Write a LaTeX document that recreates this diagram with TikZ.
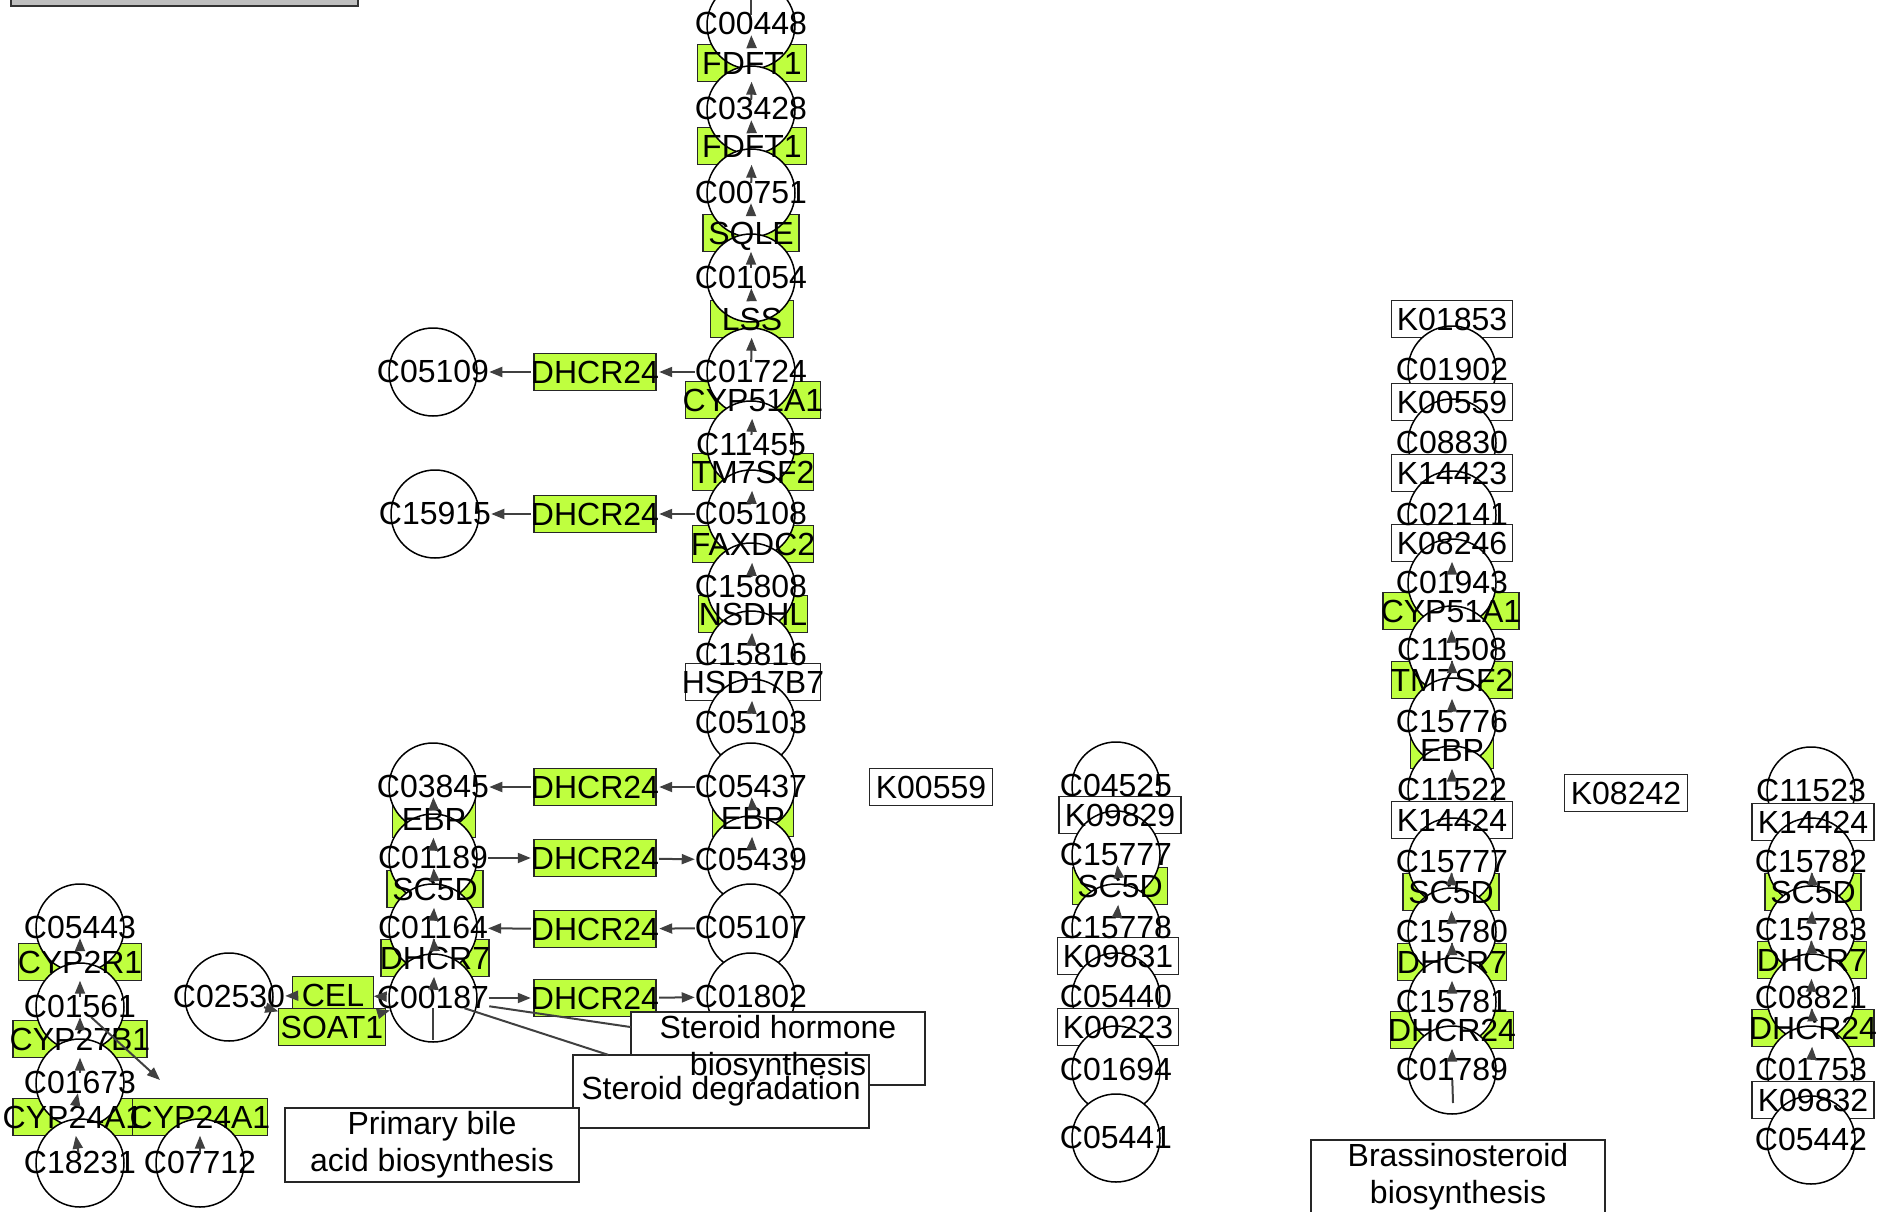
\documentclass[tikz,border=0pt]{standalone}
\usepackage{fontspec}
\setmainfont{Liberation Sans}
\usetikzlibrary{arrows.meta}
\definecolor{genegreen}{RGB}{191,255,63}
\definecolor{linkgray}{RGB}{64,64,64}
\pgfdeclarelayer{bg}
\pgfsetlayers{bg,main}

\begin{document}
\begin{tikzpicture}[x=1pt,y=-1pt,>={Triangle[length=13pt,width=10pt]},
        every node/.style={font=\fontsize{32}{37}\selectfont},
        cpd/.style={circle,draw=black,line width=1.5pt,fill=white,minimum size=88pt,inner sep=0pt},
        cpdlabel/.style={inner sep=0pt,text height=20pt,text depth=0pt},
        gene/.style={draw=black!85,line width=1.8pt,fill=genegreen,minimum height=37pt,inner sep=0pt},
        genelabel/.style={minimum height=37pt,inner sep=0pt,text height=22.5pt,text depth=0pt},
        ko/.style={gene,fill=white},
        kolabel/.style={genelabel},
        map/.style={draw=black!85,line width=1.8pt,fill=white,minimum width=294pt,minimum height=73pt},
        maplabel/.style={align=center,minimum width=294pt,minimum height=73pt,inner sep=0pt},
        link/.style={draw=linkgray,line width=2pt},
        arr/.style={link,->}]
            \useasboundingbox (0,0) rectangle (1887,1212);

            % the enzymes
            \foreach \n/\t/\x/\y/\w in {FDFT1a/FDFT1/752/63/109, FDFT1b/FDFT1/752/146/109,
                SQLE/SQLE/751/233/96, LSS/LSS/752/319/83, CYP51A1a/CYP51A1/753/400/135,
                TM7SF2a/TM7SF2/753/472/121, FAXDC2/FAXDC2/753/544/121, NSDHL/NSDHL/753/614/109,
                EBPa/EBP/753/818/81,
                DHCR24a/DHCR24/595/372/122, DHCR24b/DHCR24/595/514/122, DHCR24c/DHCR24/595/787/122,
                DHCR24d/DHCR24/595/858/122, DHCR24e/DHCR24/595/929/122, DHCR24f/DHCR24/595/998/122,
                EBPb/EBP/434/819/83, SC5Da/SC5D/435/889/96, DHCR7a/DHCR7/435/958/108,
                CEL/CEL/333/995/81, SOAT1/SOAT1/332/1027/107,
                CYP2R1/CYP2R1/80/962/123, CYP27B1/CYP27B1/80/1039/134,
                CYP24A1a/CYP24A1/73/1117/120, CYP24A1b/CYP24A1/200/1117/135,
                SC5Db/SC5D/1120/886/95,
                CYP51A1b/CYP51A1/1451/611/136, TM7SF2b/TM7SF2/1452/680/121, EBPc/EBP/1452/750/83,
                SC5Dc/SC5D/1451/892/96, DHCR7b/DHCR7/1452/962/109, DHCR24g/DHCR24/1452/1030/123,
                SC5Dd/SC5D/1813/892/96, DHCR7c/DHCR7/1812/960/109, DHCR24h/DHCR24/1813/1028/122}
            {
                \begin{pgfonlayer}{bg}
                    \node[gene,minimum width=\w] at (\x,\y) {};
                \end{pgfonlayer}
                \node[genelabel,minimum width=\w] (\n) at (\x,\y) {\t};
            }

            % the compounds and the orthologs
            \foreach \n/\t/\x/\y/\s/\w in {C00448/C00448/751/25/cpd/0, C03428/C03428/751/110/cpd/0,
                C00751/C00751/751/193/cpd/0, C01054/C01054/751/278/cpd/0, C01724/C01724/751/372/cpd/0,
                C11455/C11455/751/445/cpd/0, C05108/C05108/751/514/cpd/0, C15808/C15808/751/587/cpd/0,
                C15816/C15816/751/655/cpd/0, HSD17B7/HSD17B7/753/682/ko/135, C05103/C05103/751/723/cpd/0,
                C05437/C05437/751/787/cpd/0, C05439/C05439/751/860/cpd/0, C05107/C05107/751/928/cpd/0,
                C01802/C01802/751/997/cpd/0,
                C05109/C05109/433/372/cpd/0, C15915/C15915/435/514/cpd/0, C03845/C03845/433/787/cpd/0,
                C01189/C01189/433/858/cpd/0, C01164/C01164/433/928/cpd/0, C00187/C00187/433/998/cpd/0,
                C02530/C02530/229/997/cpd/0,
                C05443/C05443/80/928/cpd/0, C01561/C01561/80/1007/cpd/0, C01673/C01673/80/1083/cpd/0,
                C18231/C18231/80/1163/cpd/0, C07712/C07712/200/1163/cpd/0,
                K00559a/K00559/931/787/ko/123,
                C04525/C04525/1116/786/cpd/0, K09829/K09829/1120/815/ko/122, C15777a/C15777/1116/855/cpd/0,
                C15778/C15778/1116/928/cpd/0, K09831/K09831/1118/956/ko/121, C05440/C05440/1116/997/cpd/0,
                K00223/K00223/1118/1027/ko/121, C01694/C01694/1116/1070/cpd/0, C05441/C05441/1116/1138/cpd/0,
                K01853/K01853/1452/319/ko/121, C01902/C01902/1452/370/cpd/0, K00559b/K00559/1452/402/ko/121,
                C08830/C08830/1452/443/cpd/0, K14423/K14423/1452/473/ko/121, C02141/C02141/1452/515/cpd/0,
                K08246/K08246/1452/543/ko/121, C01943/C01943/1452/583/cpd/0, C11508/C11508/1452/650/cpd/0,
                C15776/C15776/1452/722/cpd/0, C11522/C11522/1452/790/cpd/0, K14424a/K14424/1452/820/ko/121,
                C15777b/C15777/1452/862/cpd/0, C15780/C15780/1452/932/cpd/0, C15781/C15781/1452/1002/cpd/0,
                C01789/C01789/1452/1070/cpd/0,
                K08242/K08242/1626/793/ko/123,
                C11523/C11523/1811/791/cpd/0, K14424b/K14424/1813/822/ko/122, C15782/C15782/1811/862/cpd/0,
                C15783/C15783/1811/930/cpd/0, C08821/C08821/1811/998/cpd/0, C01753/C01753/1811/1070/cpd/0,
                K09832/K09832/1813/1100/ko/122, C05442/C05442/1811/1140/cpd/0}
            {
                \begin{pgfonlayer}{bg}
                    \node[\s,minimum width=\w] (\n-c) at (\x,\y) {};
                \end{pgfonlayer}
                \node[\s label,minimum width=\w] (\n) at (\x,\y) {\t};
            }

            % the pathway maps
            \begin{pgfonlayer}{bg}
                \node[map] at (778,1048.5) {};
                \node[map,minimum width=296pt] at (721,1091.5) {};
                \node[map,minimum height=74pt] at (432,1145) {};
                \node[map,minimum height=74pt] at (1458,1177) {};
                \draw[fill=black!25,draw=black!80,line width=2.5pt] (11,-20) rectangle (358,6);
            \end{pgfonlayer}
            \node[maplabel] (sh) at (778,1048.5) {Steroid hormone\\biosynthesis};
            \node[maplabel,minimum width=296pt] (sdeg) at (721,1091.5) {Steroid degradation};
            \node[maplabel,minimum height=74pt] (pba) at (432,1145) {Primary bile\\acid biosynthesis};
            \node[maplabel,minimum height=74pt] (brass) at (1458,1177) {Brassinosteroid\\biosynthesis};

            % loose ends
            \coordinate (top) at (751,0);
            \coordinate (vitD) at (160,1080);
            \coordinate (cstub) at (433,1040);
            \coordinate (brstub) at (1453,1103);

            % the reactions
            \foreach \a/\b in {C03428/FDFT1a, FDFT1a/C00448, C00751/FDFT1b, FDFT1b/C03428,
                C01054/SQLE, SQLE/C00751, C01724/LSS, LSS/C01054, C11455/CYP51A1a,
                C05108/TM7SF2a, C15808/FAXDC2, C15816/NSDHL, C05103/HSD17B7,
                C05439/EBPa, EBPa/C05437,
                C01724/DHCR24a, DHCR24a/C05109, C05108/DHCR24b, DHCR24b/C15915,
                C05437/DHCR24c, DHCR24c/C03845, C01189/DHCR24d, DHCR24d/C05439,
                C05107/DHCR24e, DHCR24e/C01164, C00187/DHCR24f, DHCR24f/C01802,
                C01189/EBPb, EBPb/C03845, C01164/SC5Da, SC5Da/C01189, C00187/DHCR7a, DHCR7a/C01164,
                C00187/CEL, CEL/C02530, C02530/SOAT1, SOAT1/C00187-c,
                C18231/CYP24A1a, CYP24A1a/C01673, C01673/CYP27B1, CYP27B1/C01561,
                C01561/CYP2R1, CYP2R1/C05443, C07712/CYP24A1b, C01561/vitD,
                C15778/SC5Db, SC5Db/C15777a,
                C01943/K08246, C11508/CYP51A1b, C15776/TM7SF2b, TM7SF2b/C11508, C11522/EBPc,
                C15780/SC5Dc, SC5Dc/C15777b, C15781/DHCR7b, DHCR7b/C15780, C01789/DHCR24g,
                C15783/SC5Dd, SC5Dd/C15782, C08821/DHCR7c, DHCR7c/C15783, C01753/DHCR24h, DHCR24h/C08821}
                \draw[arr] (\a) -- (\b);

            % plain links
            \draw[link] (C00448) -- (top);
            \draw[link] (C00187) -- (cstub);
            \draw[link] (C01789) -- (brstub);
            \draw[link] (C00187) -- (sh);
            \draw[link] (C00187) -- (sdeg);
        \end{tikzpicture}
\end{document}
